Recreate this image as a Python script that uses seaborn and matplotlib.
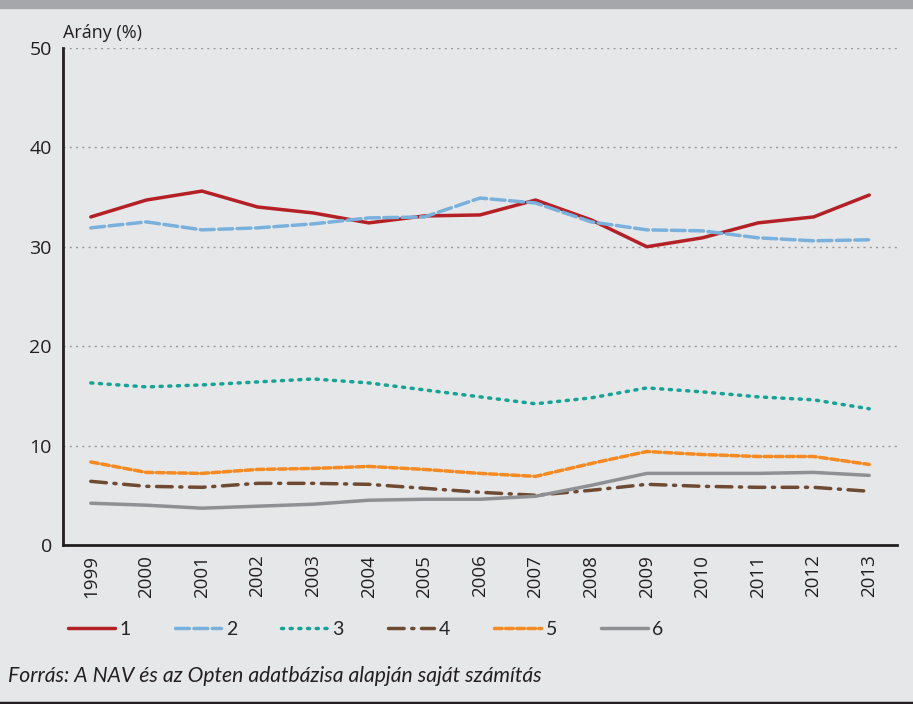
import pandas as pd
import matplotlib.pyplot as plt
import seaborn as sns
import numpy as np

years = [str(y) for y in range(1999, 2014)]
s1 = [33.0, 34.7, 35.6, 34.0, 33.4, 32.4, 33.1, 33.2, 34.7, 32.7, 30.0, 30.9, 32.4, 33.0, 35.2]
s2 = [31.9, 32.5, 31.7, 31.9, 32.3, 32.9, 33.0, 34.9, 34.4, 32.5, 31.7, 31.6, 30.9, 30.6, 30.7]
s3 = [16.3, 15.9, 16.1, 16.4, 16.7, 16.3, 15.6, 14.9, 14.2, 14.8, 15.8, 15.4, 14.9, 14.6, 13.7]
s4 = [6.4, 5.9, 5.8, 6.2, 6.2, 6.1, 5.7, 5.3, 5.0, 5.5, 6.1, 5.9, 5.8, 5.8, 5.4]
s5 = [8.35, 7.3, 7.2, 7.6, 7.7, 7.9, 7.6, 7.2, 6.9, 8.2, 9.4, 9.1, 8.9, 8.9, 8.1]
s6 = [4.2, 4.0, 3.7, 3.9, 4.1, 4.5, 4.6, 4.6, 4.9, 6.0, 7.2, 7.2, 7.2, 7.3, 7.0]
names = ["1", "2", "3", "4", "5", "6"]

colors = {"1": "#b32025", "2": "#79b1dc", "3": "#16a394",
          "4": "#6e4a33", "5": "#f68a22", "6": "#8f9094"}
dashes = {"1": "", "2": (4, 1.3), "3": (0.6, 1.9), "4": (4.5, 2.2, 0.6, 2.2),
          "5": (2.2, 1.0), "6": ""}

rows = []
for name, vals in zip(names, [s1, s2, s3, s4, s5, s6]):
    for y, v in zip(years, vals):
        rows.append({"year": y, "value": v, "series": name})
df = pd.DataFrame(rows)

bg = "#e6e7e9"
sns.set_style("white")
plt.rcParams["font.family"] = ["Open Sans", "DejaVu Sans"]

fig = plt.figure(figsize=(9.13, 7.04), dpi=100, facecolor=bg)
ax = fig.add_axes([0.069, 0.2259, 0.9135, 0.706])
ax.set_facecolor(bg)

sns.lineplot(data=df, x="year", y="value", hue="series", style="series",
             palette=colors, dashes=dashes, linewidth=2.5, legend=False, ax=ax)
for ln in ax.get_lines():
    ln.set_dash_capstyle("round")
    ln.set_solid_capstyle("round")
    ln.set_solid_joinstyle("round")
    ln.set_dash_joinstyle("round")

ax.set_ylim(0, 50)
ax.set_xlim(-0.5, 14.5)
ax.set_yticks([0, 10, 20, 30, 40, 50])
ax.set_xticks(range(15))
ax.set_xticklabels(years, rotation=90)
ax.set_xticks(np.arange(-0.5, 15, 1), minor=True)
ax.tick_params(axis="x", which="major", length=0, pad=7, labelsize=13.5, colors="#231f20")
ax.tick_params(axis="x", which="minor", length=6, width=1.6, color="#231f20", direction="out")
ax.tick_params(axis="y", length=5, width=1.6, color="#231f20", labelsize=14, labelcolor="#231f20", pad=3)
ax.yaxis.grid(True, linestyle=(0, (1.5, 3)), color="#9a9a9a", linewidth=1)
ax.set_axisbelow(True)
ax.set_xlabel("")
ax.set_ylabel("")
for side in ["top", "right"]:
    ax.spines[side].set_visible(False)
for side in ["left", "bottom"]:
    ax.spines[side].set_linewidth(2)
    ax.spines[side].set_color("#231f20")

ax.text(0.0, 1.012, "Arány (%)", transform=ax.transAxes, fontsize=13,
        color="#231f20", ha="left", va="bottom")

leg = ax.legend(ax.get_lines(), names, loc="center left", bbox_to_anchor=(0.006, -0.17),
                ncol=6, frameon=False, handlelength=2.4, columnspacing=2.25,
                handletextpad=0.25, borderaxespad=0, borderpad=0,
                prop={"family": ["Lato", "DejaVu Sans"], "size": 14})

fig.text(0.009, 0.04, "Forrás: A NAV és az Opten adatbázisa alapján saját számítás",
         fontsize=15.2, style="italic", family=["Lato", "DejaVu Sans"], color="#231f20",
         ha="left", va="center")

# top band and bottom rule
fig.patches.append(plt.Rectangle((0, 0.988), 1, 0.012, transform=fig.transFigure,
                                 color="#a6a7aa", zorder=0))
fig.lines.append(plt.Line2D([0, 1], [0.002, 0.002], transform=fig.transFigure,
                            color="#231f20", linewidth=2.5))

plt.savefig("out.png", dpi=100, facecolor=bg)
